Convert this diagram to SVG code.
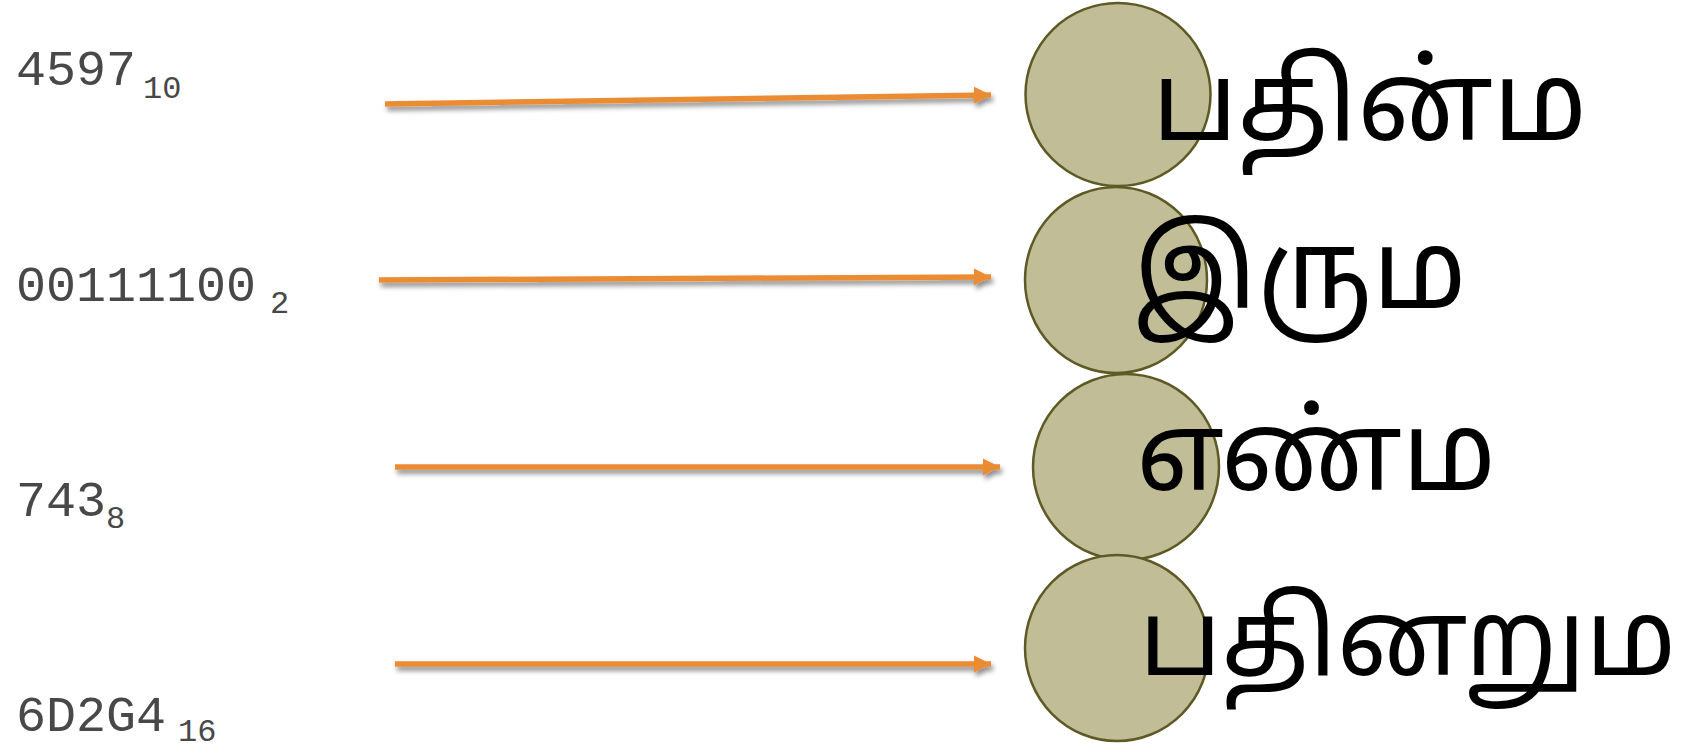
<svg xmlns="http://www.w3.org/2000/svg" width="1689" height="749" viewBox="0 0 1689 749">
<style>
.lbl{font-family:"Liberation Mono","DejaVu Sans Mono",monospace;font-size:50px;fill:#484848}
.sub{font-size:32px}
.node{fill:#c0bd97;stroke:#5e5a25;stroke-width:2.5}
.tam{font-family:"Noto Sans Tamil","Lohit Tamil","Noto Sans",sans-serif;font-size:110px;fill:#000}
.arr{stroke:#ec8c33;stroke-width:5.5;fill:none;marker-end:url(#head);filter:url(#sh)}
</style>
<defs>
<marker id="head" markerUnits="userSpaceOnUse" markerWidth="19" markerHeight="19" refX="17" refY="9.5" orient="auto">
<path d="M0,1 L17,9.5 L0,18 Z" fill="#ec8c33"/>
</marker>
<filter id="sh" filterUnits="userSpaceOnUse" x="0" y="0" width="1689" height="749">
<feDropShadow dx="2" dy="4" stdDeviation="2.5" flood-color="#000" flood-opacity="0.45"/>
</filter>
</defs>
<g id="labels">
<text class="lbl" x="16" y="85">4597<tspan class="sub" x="143" y="98">10</tspan></text>
<text class="lbl" x="16" y="301">00111100<tspan class="sub" x="270" y="313">2</tspan></text>
<text class="lbl" x="16" y="516">743<tspan class="sub" x="106" y="528">8</tspan></text>
<text class="lbl" x="16" y="731">6D2G4<tspan class="sub" x="178" y="741">16</tspan></text>
</g>
<g id="connectors">
<line class="arr" x1="385" y1="104" x2="991" y2="95"/>
<line class="arr" x1="379" y1="280" x2="991" y2="277"/>
<line class="arr" x1="395" y1="467" x2="1000" y2="467"/>
<line class="arr" x1="395" y1="664" x2="991" y2="664"/>
</g>
<g id="node1"><ellipse class="node" cx="1118" cy="94.5" rx="92.5" ry="91.5"/><text class="tam" x="1152" y="140">பதின்ம</text></g>
<g id="node2"><ellipse class="node" cx="1116" cy="280" rx="91" ry="93"/><text class="tam" x="1133" y="308">இரும</text></g>
<g id="node3"><ellipse class="node" cx="1126" cy="467" rx="93" ry="93"/><text class="tam" x="1136" y="490">எண்ம</text></g>
<g id="node4"><ellipse class="node" cx="1117" cy="648" rx="92" ry="93"/><text class="tam" x="1139" y="675" style="font-size:106px">பதினறும</text></g>
</svg>
